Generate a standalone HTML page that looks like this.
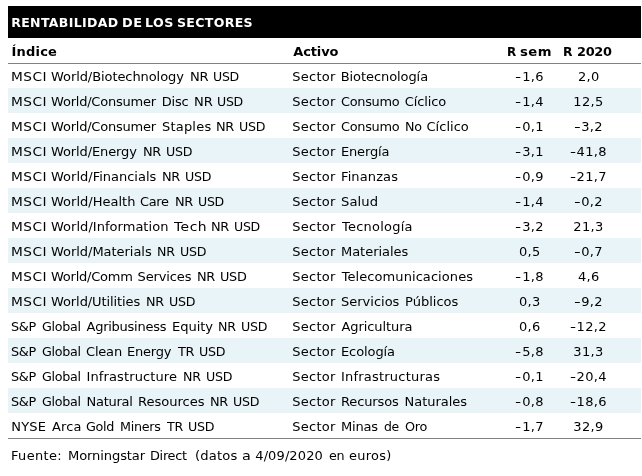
<!DOCTYPE html>
<html lang="es"><head><meta charset="utf-8"><title>Rentabilidad de los sectores</title>
<style>
html,body{margin:0;padding:0;background:#fff;}
body{width:642px;height:476px;position:relative;overflow:hidden;font-family:"DejaVu Sans","Liberation Sans",sans-serif;color:#000;font-size:13px;}
.w span{position:absolute;top:var(--y);white-space:nowrap;line-height:16px;height:16px;transform-origin:0 0;}
table{border-collapse:collapse;border-spacing:0;margin:0;}
th,td{padding:0;font-weight:inherit;}
h1,p{margin:0;font-size:inherit;font-weight:inherit;}
.h,.title{font-weight:bold;}
.title{color:#fff;font-size:12.5px;}
.bar{position:absolute;left:8px;top:6px;width:633px;height:32px;background:#000;}
.hl{position:absolute;left:8px;width:633px;height:1px;background:#808080;}
.r{position:absolute;left:8px;width:633px;height:25px;background:#e9f4f8;}
</style></head><body>
<div class="bar"></div>
<div class="hl" style="top:63px"></div>
<div class="r" style="top:88px"></div>
<div class="r" style="top:138px"></div>
<div class="r" style="top:188px"></div>
<div class="r" style="top:238px"></div>
<div class="r" style="top:288px"></div>
<div class="r" style="top:338px"></div>
<div class="r" style="top:388px"></div>
<div class="hl" style="top:438px"></div>
<h1 class="w title" style="--y:15px"><span style="left:11.25px;letter-spacing:0.35px">RENTABILIDAD</span> <span style="left:121.5px;letter-spacing:0.45px;transform:scaleX(1.029)">DE</span> <span style="left:145px;letter-spacing:0.45px;transform:scaleX(1.013)">LOS</span> <span style="left:176.5px;letter-spacing:0.31px;transform:scaleX(1.005)">SECTORES</span></h1>
<table><thead><tr class="w h" style="--y:44px"><th><span style="left:11.5px;letter-spacing:0.20px">Índice</span></th><th><span style="left:293.25px;letter-spacing:-0.12px">Activo</span></th><th><span style="left:506.75px;transform:scaleX(0.920)">R</span> <span style="left:519.75px;letter-spacing:0.45px;transform:scaleX(1.018)">sem</span></th><th><span style="left:563.25px;transform:scaleX(0.950)">R</span> <span style="left:577px;letter-spacing:-0.30px;transform:scaleX(0.992)">2020</span></th></tr></thead><tbody>
<tr class="w" style="--y:69px"><td><span style="left:10.5px;letter-spacing:0.45px;transform:scaleX(1.053)">MSCI</span> <span style="left:51px;letter-spacing:-0.08px">World/Biotechnology</span> <span style="left:190px;letter-spacing:-0.30px;transform:scaleX(1.006)">NR</span> <span style="left:212.5px;letter-spacing:-0.30px;transform:scaleX(0.964)">USD</span></td><td><span style="left:292.25px;letter-spacing:0.26px">Sector</span> <span style="left:340.75px;letter-spacing:-0.08px">Biotecnología</span></td><td><span style="left:514.5px;transform:scaleX(1.312)">-</span><span style="right:98.25px;letter-spacing:0.30px">1,6</span></td><td><span style="right:42.5px;letter-spacing:0.30px">2,0</span></td></tr>
<tr class="w" style="--y:94px"><td><span style="left:10.5px;letter-spacing:0.45px;transform:scaleX(1.053)">MSCI</span> <span style="left:51px;letter-spacing:-0.21px">World/Consumer</span> <span style="left:161.75px;letter-spacing:-0.18px">Disc</span> <span style="left:194px;letter-spacing:-0.14px;transform:scaleX(1.005)">NR</span> <span style="left:216.75px;letter-spacing:-0.30px;transform:scaleX(0.964)">USD</span></td><td><span style="left:292.25px;letter-spacing:0.26px">Sector</span> <span style="left:340.75px;letter-spacing:-0.30px;transform:scaleX(0.992)">Consumo</span> <span style="left:404.75px;letter-spacing:-0.12px">Cíclico</span></td><td><span style="left:514.5px;transform:scaleX(1.312)">-</span><span style="right:98.25px;letter-spacing:0.30px">1,4</span></td><td><span style="right:38.5px;letter-spacing:0.30px">12,5</span></td></tr>
<tr class="w" style="--y:119px"><td><span style="left:10.5px;letter-spacing:0.45px;transform:scaleX(1.053)">MSCI</span> <span style="left:51px;letter-spacing:-0.21px">World/Consumer</span> <span style="left:162px;letter-spacing:0.20px">Staples</span> <span style="left:216px;letter-spacing:-0.30px;transform:scaleX(0.992)">NR</span> <span style="left:238.5px;letter-spacing:-0.30px;transform:scaleX(0.972)">USD</span></td><td><span style="left:292.25px;letter-spacing:0.26px">Sector</span> <span style="left:340.75px;letter-spacing:-0.30px;transform:scaleX(0.992)">Consumo</span> <span style="left:404.5px;letter-spacing:-0.30px;transform:scaleX(0.975)">No</span> <span style="left:426.5px;letter-spacing:0.02px">Cíclico</span></td><td><span style="left:514.5px;transform:scaleX(1.312)">-</span><span style="right:98.25px;letter-spacing:0.30px">0,1</span></td><td><span style="left:573.5px;transform:scaleX(1.434)">-</span><span style="right:39.25px;letter-spacing:0.30px">3,2</span></td></tr>
<tr class="w" style="--y:144px"><td><span style="left:10.5px;letter-spacing:0.45px;transform:scaleX(1.053)">MSCI</span> <span style="left:51px;letter-spacing:-0.12px">World/Energy</span> <span style="left:142.75px;letter-spacing:-0.30px;transform:scaleX(0.992)">NR</span> <span style="left:165.5px;letter-spacing:-0.30px;transform:scaleX(0.972)">USD</span></td><td><span style="left:292.25px;letter-spacing:0.26px">Sector</span> <span style="left:341px;letter-spacing:-0.17px">Energía</span></td><td><span style="left:514.5px;transform:scaleX(1.312)">-</span><span style="right:98.25px;letter-spacing:0.30px">3,1</span></td><td><span style="left:569.5px;transform:scaleX(1.293)">-</span><span style="right:35.25px;letter-spacing:0.30px">41,8</span></td></tr>
<tr class="w" style="--y:169px"><td><span style="left:10.5px;letter-spacing:0.45px;transform:scaleX(1.053)">MSCI</span> <span style="left:51px">World/Financials</span> <span style="left:161.75px;letter-spacing:-0.30px;transform:scaleX(0.992)">NR</span> <span style="left:184.5px;letter-spacing:-0.30px;transform:scaleX(0.972)">USD</span></td><td><span style="left:292.25px;letter-spacing:0.26px">Sector</span> <span style="left:341px;letter-spacing:0.11px">Finanzas</span></td><td><span style="left:514.5px;transform:scaleX(1.312)">-</span><span style="right:98.25px;letter-spacing:0.30px">0,9</span></td><td><span style="left:569.5px;transform:scaleX(1.293)">-</span><span style="right:35.25px;letter-spacing:0.30px">21,7</span></td></tr>
<tr class="w" style="--y:194px"><td><span style="left:10.5px;letter-spacing:0.45px;transform:scaleX(1.053)">MSCI</span> <span style="left:51px;letter-spacing:0.01px">World/Health</span> <span style="left:140.25px;letter-spacing:-0.30px;transform:scaleX(0.994)">Care</span> <span style="left:175px;letter-spacing:-0.30px;transform:scaleX(0.992)">NR</span> <span style="left:197.5px;letter-spacing:-0.30px;transform:scaleX(0.964)">USD</span></td><td><span style="left:292.25px;letter-spacing:0.26px">Sector</span> <span style="left:340.75px;letter-spacing:0.09px;transform:scaleX(1.011)">Salud</span></td><td><span style="left:514.5px;transform:scaleX(1.312)">-</span><span style="right:98.25px;letter-spacing:0.30px">1,4</span></td><td><span style="left:573.5px;transform:scaleX(1.434)">-</span><span style="right:39.25px;letter-spacing:0.30px">0,2</span></td></tr>
<tr class="w" style="--y:219px"><td><span style="left:10.5px;letter-spacing:0.45px;transform:scaleX(1.053)">MSCI</span> <span style="left:51px;letter-spacing:0.03px">World/Information</span> <span style="left:173.5px;letter-spacing:0.45px;transform:scaleX(1.070)">Tech</span> <span style="left:211px;letter-spacing:-0.30px;transform:scaleX(0.992)">NR</span> <span style="left:233.5px;letter-spacing:-0.30px;transform:scaleX(0.964)">USD</span></td><td><span style="left:292.25px;letter-spacing:0.26px">Sector</span> <span style="left:341.75px;letter-spacing:0.27px;transform:scaleX(0.995)">Tecnología</span></td><td><span style="left:514.5px;transform:scaleX(1.312)">-</span><span style="right:98.25px;letter-spacing:0.30px">3,2</span></td><td><span style="right:38.5px;letter-spacing:0.30px">21,3</span></td></tr>
<tr class="w" style="--y:244px"><td><span style="left:10.5px;letter-spacing:0.45px;transform:scaleX(1.053)">MSCI</span> <span style="left:51px;letter-spacing:-0.04px">World/Materials</span> <span style="left:157px;letter-spacing:-0.30px;transform:scaleX(0.969)">NR</span> <span style="left:179.5px;letter-spacing:-0.30px;transform:scaleX(0.972)">USD</span></td><td><span style="left:292.25px;letter-spacing:0.26px">Sector</span> <span style="left:341px;letter-spacing:-0.03px">Materiales</span></td><td><span style="right:101.5px;letter-spacing:0.30px">0,5</span></td><td><span style="left:573.5px;transform:scaleX(1.434)">-</span><span style="right:39.25px;letter-spacing:0.30px">0,7</span></td></tr>
<tr class="w" style="--y:269px"><td><span style="left:10.5px;letter-spacing:0.45px;transform:scaleX(1.053)">MSCI</span> <span style="left:51px;letter-spacing:-0.23px">World/Comm</span> <span style="left:137.5px;letter-spacing:-0.12px">Services</span> <span style="left:197.25px;letter-spacing:-0.30px;transform:scaleX(0.992)">NR</span> <span style="left:220px;letter-spacing:-0.30px;transform:scaleX(0.984)">USD</span></td><td><span style="left:292.25px;letter-spacing:0.26px">Sector</span> <span style="left:341.75px;letter-spacing:0.07px">Telecomunicaciones</span></td><td><span style="left:514.5px;transform:scaleX(1.312)">-</span><span style="right:98.25px;letter-spacing:0.30px">1,8</span></td><td><span style="right:42.5px;letter-spacing:0.30px">4,6</span></td></tr>
<tr class="w" style="--y:294px"><td><span style="left:10.5px;letter-spacing:0.45px;transform:scaleX(1.053)">MSCI</span> <span style="left:51px;letter-spacing:-0.09px">World/Utilities</span> <span style="left:146px;letter-spacing:-0.30px;transform:scaleX(0.980)">NR</span> <span style="left:168.5px;letter-spacing:-0.30px;transform:scaleX(0.972)">USD</span></td><td><span style="left:292.25px;letter-spacing:0.26px">Sector</span> <span style="left:341px">Servicios</span> <span style="left:404.5px;letter-spacing:-0.01px;transform:scaleX(1.004)">Públicos</span></td><td><span style="right:101.5px;letter-spacing:0.30px">0,3</span></td><td><span style="left:573.5px;transform:scaleX(1.434)">-</span><span style="right:39.25px;letter-spacing:0.30px">9,2</span></td></tr>
<tr class="w" style="--y:319px"><td><span style="left:11px;letter-spacing:-0.30px;transform:scaleX(0.986)">S&amp;P</span> <span style="left:42px;letter-spacing:-0.30px;transform:scaleX(0.977)">Global</span> <span style="left:86.5px;letter-spacing:-0.25px">Agribusiness</span> <span style="left:171.5px;letter-spacing:-0.06px;transform:scaleX(1.007)">Equity</span> <span style="left:218.25px;letter-spacing:-0.30px;transform:scaleX(0.969)">NR</span> <span style="left:240.5px;letter-spacing:-0.30px;transform:scaleX(0.972)">USD</span></td><td><span style="left:292.25px;letter-spacing:0.26px">Sector</span> <span style="left:341.5px;letter-spacing:-0.09px">Agricultura</span></td><td><span style="right:101.5px;letter-spacing:0.30px">0,6</span></td><td><span style="left:569.5px;transform:scaleX(1.293)">-</span><span style="right:35.25px;letter-spacing:0.30px">12,2</span></td></tr>
<tr class="w" style="--y:344px"><td><span style="left:11px;letter-spacing:-0.30px;transform:scaleX(0.986)">S&amp;P</span> <span style="left:42px;letter-spacing:-0.30px;transform:scaleX(0.977)">Global</span> <span style="left:86px;letter-spacing:-0.19px">Clean</span> <span style="left:127px;letter-spacing:-0.20px">Energy</span> <span style="left:178px;letter-spacing:-0.30px;transform:scaleX(0.989)">TR</span> <span style="left:199.25px;letter-spacing:-0.30px;transform:scaleX(0.974)">USD</span></td><td><span style="left:292.25px;letter-spacing:0.26px">Sector</span> <span style="left:341px;letter-spacing:-0.09px">Ecología</span></td><td><span style="left:514.5px;transform:scaleX(1.312)">-</span><span style="right:98.25px;letter-spacing:0.30px">5,8</span></td><td><span style="right:38.5px;letter-spacing:0.30px">31,3</span></td></tr>
<tr class="w" style="--y:369px"><td><span style="left:11px;letter-spacing:-0.30px;transform:scaleX(0.986)">S&amp;P</span> <span style="left:42px;letter-spacing:-0.30px;transform:scaleX(0.977)">Global</span> <span style="left:86.5px;letter-spacing:0.12px">Infrastructure</span> <span style="left:183px;letter-spacing:-0.30px;transform:scaleX(0.969)">NR</span> <span style="left:205.5px;letter-spacing:-0.30px;transform:scaleX(0.972)">USD</span></td><td><span style="left:292.25px;letter-spacing:0.26px">Sector</span> <span style="left:341px;letter-spacing:0.21px">Infrastructuras</span></td><td><span style="left:514.5px;transform:scaleX(1.312)">-</span><span style="right:98.25px;letter-spacing:0.30px">0,1</span></td><td><span style="left:569.5px;transform:scaleX(1.293)">-</span><span style="right:35.25px;letter-spacing:0.30px">20,4</span></td></tr>
<tr class="w" style="--y:394px"><td><span style="left:11px;letter-spacing:-0.30px;transform:scaleX(0.986)">S&amp;P</span> <span style="left:42px;letter-spacing:-0.30px;transform:scaleX(0.977)">Global</span> <span style="left:86.5px;letter-spacing:-0.27px">Natural</span> <span style="left:137.75px;letter-spacing:-0.04px;transform:scaleX(1.008)">Resources</span> <span style="left:209.5px;letter-spacing:-0.30px;transform:scaleX(0.992)">NR</span> <span style="left:232.5px;letter-spacing:-0.30px;transform:scaleX(0.972)">USD</span></td><td><span style="left:292.25px;letter-spacing:0.26px">Sector</span> <span style="left:341px;letter-spacing:-0.12px">Recursos</span> <span style="left:404.5px;letter-spacing:-0.03px">Naturales</span></td><td><span style="left:514.5px;transform:scaleX(1.312)">-</span><span style="right:98.25px;letter-spacing:0.30px">0,8</span></td><td><span style="left:569.5px;transform:scaleX(1.293)">-</span><span style="right:35.25px;letter-spacing:0.30px">18,6</span></td></tr>
<tr class="w" style="--y:419px"><td><span style="left:11.25px;letter-spacing:0.20px">NYSE</span> <span style="left:52px;letter-spacing:0.21px;transform:scaleX(0.994)">Arca</span> <span style="left:86px;letter-spacing:-0.30px;transform:scaleX(0.981)">Gold</span> <span style="left:119.5px;letter-spacing:-0.30px;transform:scaleX(0.978)">Miners</span> <span style="left:167.25px;letter-spacing:-0.30px;transform:scaleX(0.970)">TR</span> <span style="left:188.25px;letter-spacing:-0.30px;transform:scaleX(0.974)">USD</span></td><td><span style="left:292.25px;letter-spacing:0.26px">Sector</span> <span style="left:341px;letter-spacing:-0.22px;transform:scaleX(1.004)">Minas</span> <span style="left:383.75px;letter-spacing:-0.30px;transform:scaleX(0.958)">de</span> <span style="left:405px;letter-spacing:-0.30px;transform:scaleX(0.984)">Oro</span></td><td><span style="left:514.5px;transform:scaleX(1.312)">-</span><span style="right:98.25px;letter-spacing:0.30px">1,7</span></td><td><span style="right:38.5px;letter-spacing:0.30px">32,9</span></td></tr>
</tbody></table>
<p class="w" style="--y:448px"><span style="left:11px;letter-spacing:0.38px;transform:scaleX(0.994)">Fuente:</span> <span style="left:68px;letter-spacing:-0.12px;transform:scaleX(1.007)">Morningstar</span> <span style="left:150px;letter-spacing:-0.30px;transform:scaleX(0.991)">Direct</span> <span style="left:194.75px;letter-spacing:0.16px;transform:scaleX(1.009)">(datos</span> <span style="left:241.75px;transform:scaleX(1.105)">a</span> <span style="left:255.25px;letter-spacing:0.11px">4/09/2020</span> <span style="left:329px;letter-spacing:-0.30px;transform:scaleX(0.978)">en</span> <span style="left:349.25px;letter-spacing:0.31px;transform:scaleX(0.992)">euros)</span></p>
</body></html>
